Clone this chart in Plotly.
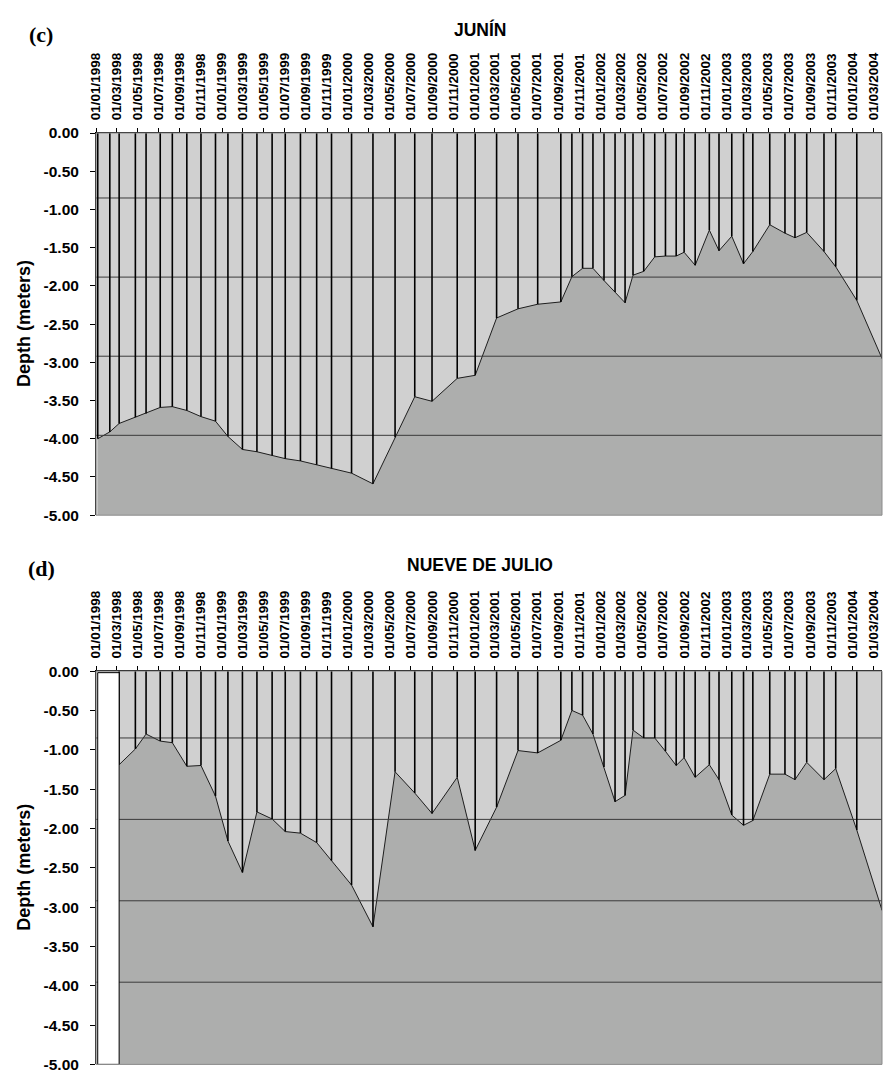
import plotly.graph_objects as go

# Sampling dates shared by both wells
dates = [
    "1998-01-06", "1998-02-10", "1998-03-09", "1998-04-25", "1998-05-26",
    "1998-07-06", "1998-08-10", "1998-09-21", "1998-11-01", "1998-12-13",
    "1999-01-18", "1999-03-01", "1999-04-12", "1999-05-26", "1999-07-03",
    "1999-08-16", "1999-10-02", "1999-11-14", "2000-01-11", "2000-03-13",
    "2000-05-16", "2000-07-12", "2000-08-31", "2000-11-12", "2001-01-03",
    "2001-03-06", "2001-05-07", "2001-07-03", "2001-09-08", "2001-10-10",
    "2001-11-10", "2001-12-10", "2002-01-11", "2002-02-12", "2002-03-13",
    "2002-04-05", "2002-05-06", "2002-06-07", "2002-07-08", "2002-08-08",
    "2002-08-31", "2002-10-02", "2002-11-12", "2002-12-10", "2003-01-16",
    "2003-02-19", "2003-03-18", "2003-05-06", "2003-06-19", "2003-07-18",
    "2003-08-21", "2003-10-10", "2003-11-13", "2004-01-13", "2004-03-26",
]

# Water-table depth (m), Junín
junin_depth = [
    -4.00, -3.91, -3.80, -3.72, -3.67, -3.59, -3.58, -3.63, -3.71, -3.77,
    -3.97, -4.14, -4.17, -4.22, -4.26, -4.29, -4.34, -4.39, -4.45, -4.59,
    -3.98, -3.45, -3.51, -3.21, -3.17, -2.42, -2.30, -2.24, -2.21, -1.88,
    -1.77, -1.77, -1.93, -2.08, -2.22, -1.86, -1.81, -1.62, -1.61, -1.61,
    -1.56, -1.73, -1.27, -1.54, -1.35, -1.71, -1.55, -1.20, -1.31, -1.37,
    -1.30, -1.55, -1.75, -2.19, -2.95,
]

# Water-table depth (m), Nueve de Julio (no readings on the first two dates)
nueve_depth = [
    None, None, -1.19, -0.99, -0.80, -0.89, -0.91, -1.21, -1.20, -1.59,
    -2.16, -2.56, -1.79, -1.88, -2.04, -2.06, -2.18, -2.41, -2.72, -3.25,
    -1.28, -1.55, -1.81, -1.35, -2.28, -1.73, -1.01, -1.04, -0.88, -0.50,
    -0.56, -0.80, -1.22, -1.66, -1.58, -0.75, -0.85, -0.85, -1.02, -1.20,
    -1.10, -1.35, -1.19, -1.38, -1.83, -1.96, -1.90, -1.31, -1.31, -1.38,
    -1.16, -1.38, -1.24, -2.02, -3.04,
]

# Reference depth levels drawn across each panel
ref_levels = [-0.85, -1.885, -2.92, -3.955]

# Depth axis
depth_floor = -5.0
depth_ticks = [0.0, -0.5, -1.0, -1.5, -2.0, -2.5, -3.0, -3.5, -4.0, -4.5, -5.0]
depth_tick_labels = ["0.00", "-0.50", "-1.00", "-1.50", "-2.00", "-2.50",
                     "-3.00", "-3.50", "-4.00", "-4.50", "-5.00"]

axis_start = "1998-01-01"
axis_end = dates[-1]

# Blank column marking the Nueve de Julio period without data
nodata_start = dates[0]
nodata_end = dates[2]
nodata_top = -0.02

panel_titles = ["JUNÍN", "NUEVE DE JULIO"]
panel_letters = ["(c)", "(d)"]

LIGHT = "#d0d0d0"
DARK = "#adaead"
SANS = "Liberation Sans, Arial, Helvetica, sans-serif"
SERIF = "Liberation Serif, Times New Roman, serif"

fig = go.Figure()


def add_panel(xa, ya, depth, nodata=None):
    pts = [(d, v) for d, v in zip(dates, depth) if v is not None]
    px = [p[0] for p in pts]
    pv = [p[1] for p in pts]
    common = dict(xaxis=xa, yaxis=ya, hoverinfo="skip", showlegend=False)

    # floor of the filled area
    fig.add_trace(go.Scatter(x=px, y=[depth_floor] * len(px), mode="lines",
                             line=dict(width=0, color=DARK), **common))
    # depth series as a filled area
    fig.add_trace(go.Scatter(x=px, y=pv, mode="lines", fill="tonexty",
                             fillcolor=DARK,
                             line=dict(color="#1e1e1e", width=1), **common))
    # horizontal reference levels
    hx, hy = [], []
    for lvl in ref_levels:
        hx += [axis_start, axis_end, None]
        hy += [lvl, lvl, None]
    fig.add_trace(go.Scatter(x=hx, y=hy, mode="lines",
                             line=dict(color="#3a3a3a", width=1), **common))
    # drop lines from the surface to each reading
    dx, dy = [], []
    for d, v in pts:
        dx += [d, d, None]
        dy += [0, v, None]
    fig.add_trace(go.Scatter(x=dx, y=dy, mode="lines",
                             line=dict(color="black", width=1.6), **common))
    if nodata is not None:
        x0, x1, top = nodata
        fig.add_trace(go.Scatter(
            x=[x0, x0, x1, x1, x0],
            y=[depth_floor, top, top, depth_floor, depth_floor],
            mode="lines", fill="toself", fillcolor="white",
            line=dict(color="black", width=1), **common))


add_panel("x", "y", junin_depth)
add_panel("x2", "y2", nueve_depth, (nodata_start, nodata_end, nodata_top))

H = 1079.0
W = 884.0
L, R = 96, 2
top_dom = [1 - 514.3 / H, 1 - 126.0 / H]
bot_dom = [1 - 1072.3 / H, 1 - 672.7 / H]


def xaxis_cfg(anchor):
    return dict(
        type="date", side="top", anchor=anchor, domain=[0, 1],
        range=[axis_start, axis_end], tick0=axis_start, dtick="M2",
        tickformat="%d/%m/%Y", tickangle=-90, ticks="outside", ticklen=4,
        tickcolor="black", showline=True, linecolor="black", linewidth=1,
        showgrid=False, zeroline=False, ticklabelstandoff=5,
        tickfont=dict(family=SANS, size=13.5, color="black", weight="bold"),
    )


def yaxis_cfg(anchor, dom):
    return dict(
        anchor=anchor, domain=dom, range=[depth_floor, 0],
        tickvals=depth_ticks, ticktext=depth_tick_labels, ticks="outside",
        ticklen=5, tickcolor="black", showline=True, linecolor="black",
        linewidth=1, showgrid=False, zeroline=False, ticklabelstandoff=8,
        tickfont=dict(family=SANS, size=15.5, color="black", weight="bold"),
    )


pw = W - L - R
annotations = []
for i, (title, letter) in enumerate(zip(panel_titles, panel_letters)):
    ty = [21.0, 565.0][i]
    ly = [26.0, 568.0][i]
    annotations.append(dict(
        text=title, xref="paper", yref="paper", x=(480 - L) / pw, y=1 - ty / H,
        xanchor="center", yanchor="middle", showarrow=False,
        font=dict(family=SANS, size=17.5, color="black", weight="bold")))
    annotations.append(dict(
        text=letter, xref="paper", yref="paper", x=(41 - L) / pw, y=1 - ly / H,
        xanchor="center", yanchor="middle", showarrow=False,
        font=dict(family=SERIF, size=22, color="black", weight="bold")))
    cy = [320.0, 872.5][i]
    annotations.append(dict(
        text="Depth (meters)", xref="paper", yref="paper",
        x=(24 - L) / pw, y=1 - cy / H, textangle=-90,
        xanchor="center", yanchor="middle", showarrow=False,
        font=dict(family=SANS, size=18, color="black", weight="bold")))

shapes = []
for xa, ya in (("x", "y"), ("x2", "y2")):
    shapes.append(dict(type="rect", xref=f"{xa} domain", yref=f"{ya} domain",
                       x0=0, x1=1, y0=0, y1=1, layer="above",
                       line=dict(color="#8a8a8a", width=1)))

fig.update_layout(
    width=int(W), height=int(H),
    margin=dict(l=L, r=R, t=0, b=0),
    paper_bgcolor="white", plot_bgcolor=LIGHT,
    xaxis=xaxis_cfg("y"), yaxis=yaxis_cfg("x", top_dom),
    xaxis2=xaxis_cfg("y2"), yaxis2=yaxis_cfg("x2", bot_dom),
    annotations=annotations, shapes=shapes, showlegend=False,
)

fig.write_html("out.html")
